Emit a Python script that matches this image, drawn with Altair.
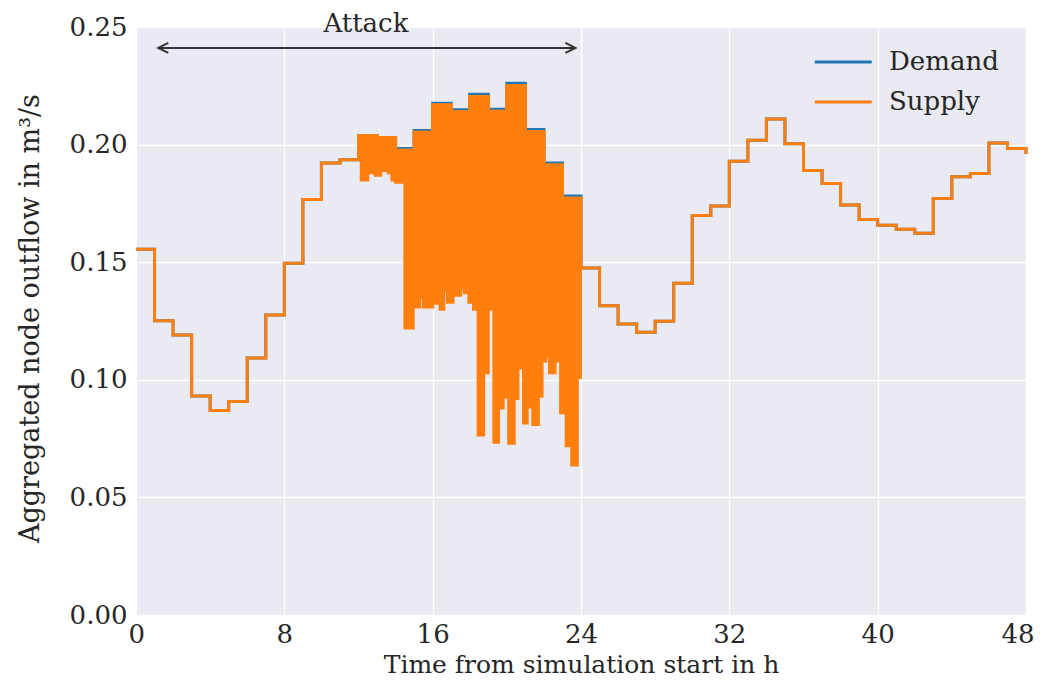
import altair as alt
import pandas as pd

# ---------------- data ----------------
hours = list(range(49))
demand = [0.1555, 0.1251, 0.1191, 0.0931, 0.0870, 0.0908, 0.1093, 0.1275, 0.1496, 0.1767,
          0.1922, 0.1936, 0.2038, 0.2030, 0.1983, 0.2060, 0.2176, 0.2148, 0.2214, 0.2150,
          0.2261, 0.2064, 0.1922, 0.1781, 0.1475, 0.1315, 0.1237, 0.1202, 0.1249, 0.1410,
          0.1699, 0.1739, 0.1929, 0.2018, 0.2109, 0.2004, 0.1890, 0.1835, 0.1743, 0.1682,
          0.1657, 0.1640, 0.1623, 0.1771, 0.1863, 0.1877, 0.2007, 0.1983, 0.1960]
supply = [0.1555, 0.1251, 0.1191, 0.0931, 0.0870, 0.0908, 0.1093, 0.1275, 0.1496, 0.1767,
          0.1922, 0.1936, 0.2038, 0.2030, 0.1976, 0.2052, 0.2168, 0.2140, 0.2205, 0.2142,
          0.2250, 0.2055, 0.1913, 0.1772, 0.1475, 0.1315, 0.1237, 0.1202, 0.1249, 0.1410,
          0.1699, 0.1739, 0.1929, 0.2018, 0.2109, 0.2004, 0.1890, 0.1835, 0.1743, 0.1682,
          0.1657, 0.1640, 0.1623, 0.1771, 0.1863, 0.1877, 0.2007, 0.1983, 0.1960]

# lower envelope of the oscillating supply during the attack (start time, value)
attack_low_t = [12.15, 12.5, 12.9, 13.2, 13.6, 13.8, 14.0, 14.5, 14.95, 15.3, 15.5, 16.0,
                16.4, 16.6, 16.8, 17.1, 17.5, 17.7, 17.95, 18.2, 18.45, 18.75, 19.0, 19.3,
                19.55, 19.8, 20.1, 20.4, 20.6, 20.9, 21.1, 21.4, 21.7, 21.9, 22.1, 22.3,
                22.6, 22.9, 23.2, 23.5, 23.8, 23.97]
attack_low_v = [0.185, 0.188, 0.187, 0.189, 0.188, 0.185, 0.184, 0.122, 0.131, 0.135, 0.131, 0.1325,
                0.130, 0.138, 0.133, 0.136, 0.139, 0.137, 0.133, 0.130, 0.0765, 0.103, 0.130, 0.0735,
                0.088, 0.0927, 0.073, 0.092, 0.105, 0.0816, 0.0884, 0.081, 0.093, 0.108, 0.110, 0.103,
                0.108, 0.086, 0.072, 0.0638, 0.101, 0.101]

series_names = ["Demand", "Supply"]
series_colors = ["#1f77b4", "#ff7f0e"]
x_ticks = [0, 8, 16, 24, 32, 40, 48]
y_ticks = [0.0, 0.05, 0.10, 0.15, 0.20, 0.25]
attack_span = [1.2, 23.7]
attack_y = 0.2411
attack_label_x = 12.4
attack_label_y = 0.2513

# ---------------- tables ----------------
lines = pd.DataFrame(
    [{"t": h, "v": d, "series": "Demand", "o": 0} for h, d in zip(hours, demand)]
    + [{"t": h, "v": s, "series": "Supply", "o": 1} for h, s in zip(hours, supply)]
)

breaks = sorted(set(attack_low_t) | {float(h) for h in range(13, 24)})
band_rows = []
for t in breaks:
    if t < attack_low_t[0] or t > attack_low_t[-1]:
        continue
    hi = supply[int(t)]
    lo = [v for lt, v in zip(attack_low_t, attack_low_v) if lt <= t][-1]
    band_rows.append({"t": t, "hi": hi, "lo": lo})
band = pd.DataFrame(band_rows)

arrow = pd.DataFrame({"t": attack_span, "v": [attack_y, attack_y]})
label = pd.DataFrame({"t": [attack_label_x], "v": [attack_label_y], "txt": ["Attack"]})

FONT = "DejaVu Serif"
TXT = "#262626"
FS = 26
LW = 3

xscale = alt.Scale(domain=[0, 48], nice=False, zero=False)
yscale = alt.Scale(domain=[0, 0.25], nice=False)

xaxis = alt.Axis(values=x_ticks, title="Time from simulation start in h", grid=True,
                 gridColor="white", gridWidth=1.3, domain=False, ticks=False, tickSize=0,
                 labelFont=FONT, labelFontSize=FS, labelColor=TXT, labelPadding=6,
                 labelFlush=True, labelFlushOffset=8, titleFont=FONT, titleFontSize=25,
                 titleFontWeight="normal", titleColor=TXT, titleY=49, titleBaseline="middle")
yaxis = alt.Axis(values=y_ticks, format=".2f", title="Aggregated node outflow in m³/s",
                 grid=True, gridColor="white", gridWidth=1.3, domain=False, ticks=False,
                 tickSize=0, labelFont=FONT, labelFontSize=FS, labelColor=TXT, labelPadding=9,
                 titleFont=FONT, titleFontSize=27, titleFontWeight="normal", titleColor=TXT,
                 titleX=-106, titleY=291, titleAlign="center", titleBaseline="middle",
                 titleAngle=270)

base_lines = alt.Chart(lines).mark_line(interpolate="step-after", strokeWidth=LW).encode(
    x=alt.X("t:Q", scale=xscale, axis=xaxis),
    y=alt.Y("v:Q", scale=yscale, axis=yaxis),
    color=alt.Color("series:N", scale=alt.Scale(domain=series_names, range=series_colors),
                    legend=alt.Legend(title=None, orient="none", legendX=677, legendY=19,
                                      symbolType="M-1,0L3,0", symbolSize=812,
                                      symbolStrokeWidth=LW, labelOffset=44,
                                      labelFont=FONT, labelFontSize=FS, labelColor=TXT,
                                      rowPadding=11, padding=0)),
    detail="series:N",
    order="o:Q",
)

band_layer = alt.Chart(band).mark_area(interpolate="step-after", color="#ff7f0e",
                                       stroke="#ff7f0e", strokeWidth=LW, opacity=1).encode(
    x=alt.X("t:Q", scale=xscale),
    y=alt.Y("hi:Q", scale=yscale),
    y2="lo:Q",
)

arrow_line = alt.Chart(arrow).mark_line(color="#333333", strokeWidth=2).encode(
    x=alt.X("t:Q", scale=xscale), y=alt.Y("v:Q", scale=yscale))
arrow_left = alt.Chart(arrow.iloc[[0]]).mark_point(
    shape="M2,-1L0,0L2,1", size=100, filled=False, color="#333333", strokeWidth=2,
    opacity=1).encode(x=alt.X("t:Q", scale=xscale), y=alt.Y("v:Q", scale=yscale))
arrow_right = alt.Chart(arrow.iloc[[1]]).mark_point(
    shape="M-2,-1L0,0L-2,1", size=100, filled=False, color="#333333", strokeWidth=2,
    opacity=1).encode(x=alt.X("t:Q", scale=xscale), y=alt.Y("v:Q", scale=yscale))
label_layer = alt.Chart(label).mark_text(font=FONT, fontSize=FS, color=TXT,
                                         baseline="middle", align="center").encode(
    x=alt.X("t:Q", scale=xscale), y=alt.Y("v:Q", scale=yscale), text="txt:N")

chart = alt.layer(base_lines, band_layer, arrow_line, arrow_left, arrow_right, label_layer).properties(
    width=890, height=588,
    autosize=alt.AutoSizeParams(type="none"),
    padding={"left": 128, "top": 19, "right": 9, "bottom": 63},
    background="white",
).configure_view(fill="#EAEAF2", stroke=None)

chart.save("out.html", embed_options={"renderer": "svg", "actions": False})
